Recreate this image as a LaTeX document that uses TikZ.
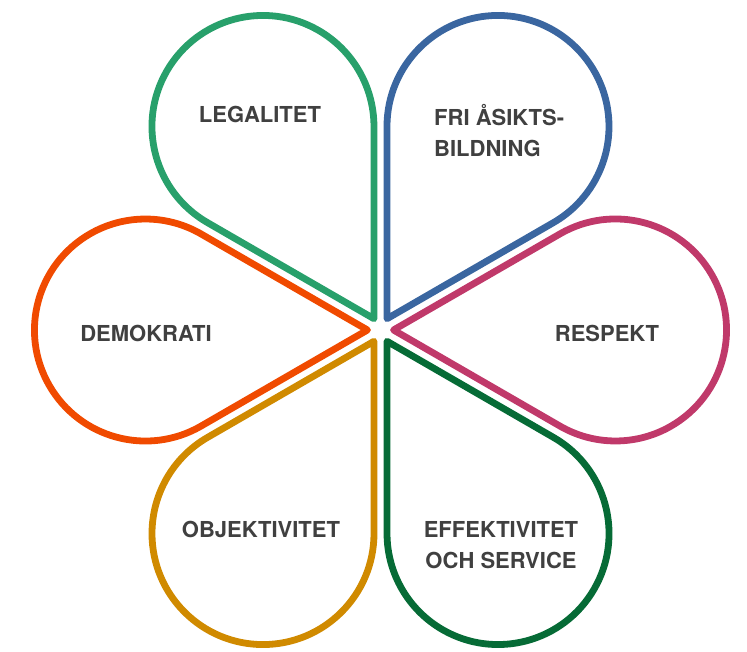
\documentclass[tikz,border=0pt]{standalone}
\usepackage{fontspec}
\setmainfont{TeX Gyre Heros}
\definecolor{grLegal}{RGB}{40,160,107}
\definecolor{blFri}{RGB}{58,102,160}
\definecolor{rdResp}{RGB}{192,57,106}
\definecolor{grEff}{RGB}{6,107,54}
\definecolor{yeObj}{RGB}{208,138,0}
\definecolor{orDemo}{RGB}{240,74,0}
\definecolor{txtgray}{RGB}{64,64,64}
\tikzset{
  petal/.style={line width=6.8pt,line join=round},
  word/.style={text=txtgray,inner sep=0pt,text height=15.8pt,text depth=0pt,
    font=\bfseries\fontsize{22}{31}\selectfont}
}
\begin{document}
\begin{tikzpicture}[x=1pt,y=1pt]
    \useasboundingbox (-380.5,-321) rectangle (366.5,330);
    % petals, tip near the middle
    \foreach \ang/\col in {120/grLegal,60/blFri,0/rdResp,-60/grEff,-120/yeObj,180/orDemo}
        \draw[petal,\col] (\ang:13) -- ++(\ang+30:192.3)
            arc[start angle=\ang+120,end angle=\ang-120,radius=111] -- cycle;
    \node[word] (legal) at (-120.5,215) {LEGALITET};
    \node[word,anchor=west,align=left,text height=,text depth=] (fri) at (53.5,199.5) {FRI ÅSIKTS-\\BILDNING};
    \node[word] (demo) at (-234.5,-4) {DEMOKRATI};
    \node[word] (resp) at (226.5,-4) {RESPEKT};
    \node[word] (obj) at (-119.5,-200) {OBJEKTIVITET};
    \node[word,align=center,text height=,text depth=] (eff) at (120.5,-215) {EFFEKTIVITET\\OCH SERVICE};
\end{tikzpicture}
\end{document}
